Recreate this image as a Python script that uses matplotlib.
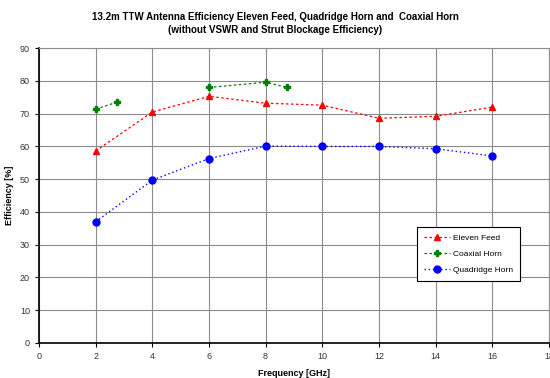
import numpy as np
import matplotlib.pyplot as plt

plt.rcParams['font.family'] = ['Liberation Sans', 'DejaVu Sans']

# Data
eleven_f = [2, 4, 6, 8, 10, 12, 14, 16]
eleven_eff = [58.6, 70.5, 75.3, 73.2, 72.6, 68.6, 69.2, 72.0]

coax_f = [2, 2.75, 6, 8, 8.75]
coax_eff = [71.4, 73.5, 78.0, 79.6, 78.0]

quad_f = [2, 4, 6, 8, 10, 12, 14, 16]
quad_eff = [37.0, 49.7, 56.3, 60.1, 60.0, 60.0, 59.3, 57.1]

fig = plt.figure(figsize=(5.5, 3.78), dpi=100)
ax = fig.add_axes([0.0709, 0.0926, 0.927, 0.780])

ax.plot(eleven_f, eleven_eff, color='red', ls=(0, (2, 2)), lw=0.9,
        marker='^', ms=4.5, label='Eleven Feed')
# coaxial horn was measured in two separate bands
ax.plot(coax_f[:2], coax_eff[:2], color='green', ls=(0, (2, 2)), lw=0.9,
        marker='P', ms=4.5, label='Coaxial Horn')
ax.plot(coax_f[2:], coax_eff[2:], color='green', ls=(0, (2, 2)), lw=0.9,
        marker='P', ms=4.5)
ax.plot(quad_f, quad_eff, color='blue', ls=(0, (1, 2)), lw=1.0,
        marker='o', ms=5, label='Quadridge Horn')

ax.set_xlim(0, 18)
ax.set_ylim(0, 90)
ax.set_xticks(np.arange(0, 19, 2))
ax.set_yticks(np.arange(0, 91, 10))
ax.grid(True, color='#8c8c8c', lw=0.8)
ax.set_axisbelow(True)
for s in ['top', 'right']:
    ax.spines[s].set_color('#8c8c8c')
    ax.spines[s].set_linewidth(0.8)
for s in ['left', 'bottom']:
    ax.spines[s].set_linewidth(1.2)
ax.tick_params(labelsize=6.5, length=3, width=0.8, labelcolor='#333333')

ax.set_xlabel('Frequency [GHz]', fontsize=6.5, fontweight='bold', labelpad=6)
ax.set_ylabel('Efficiency [%]', fontsize=6.5, fontweight='bold', labelpad=4)

fig.text(0.5, 0.937, '13.2m TTW Antenna Efficiency Eleven Feed, Quadridge Horn and  Coaxial Horn\n'
         '(without VSWR and Strut Blockage Efficiency)',
         ha='center', va='center', fontsize=7, fontweight='bold', linespacing=1.35)

leg = ax.legend(loc='upper right', bbox_to_anchor=(0.951, 0.407), fontsize=6,
                fancybox=False, edgecolor='black', framealpha=1, borderpad=0.8,
                labelspacing=1.0, handlelength=3.2, handletextpad=0.3)
leg.get_frame().set_linewidth(0.8)

fig.savefig('out.png', dpi=100)
